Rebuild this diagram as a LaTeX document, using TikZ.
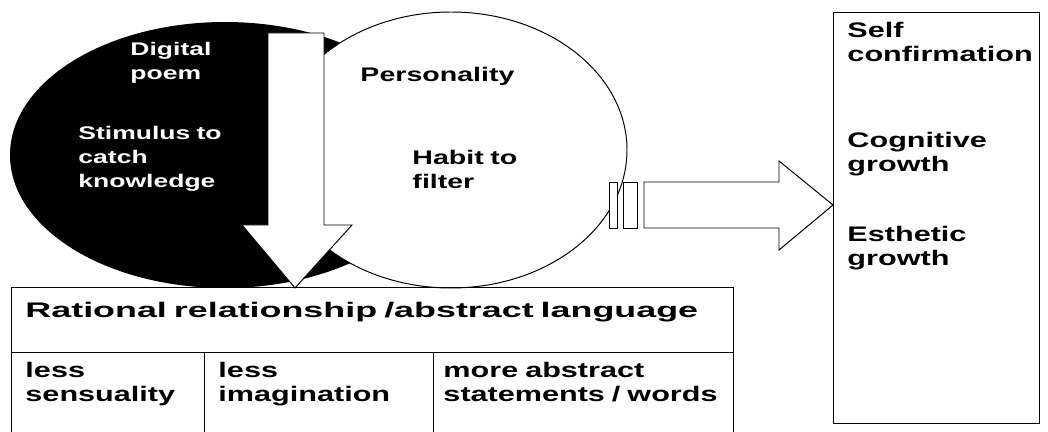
\documentclass[tikz,border=0pt]{standalone}
\usepackage{fontspec}
\setmainfont{Liberation Sans}[FakeStretch=1.45]
\usetikzlibrary{positioning}

\begin{document}
\begin{tikzpicture}[x=0.025cm, y=-0.025cm, line width=0.7pt,
  lbl/.style={anchor=base west, inner sep=0pt, align=left, text width=8cm,
    font=\bfseries\fontsize{#1}{17}\selectfont},
  lbl/.default=14,
  hdr/.style={lbl, text width=18cm,
    font=\bfseries\fontsize{15}{18}\selectfont\addfontfeature{FakeStretch=1.7}}]

\useasboundingbox (0,0) rectangle (1048,432);

% Two ellipses
\fill[black] (225,155) ellipse [x radius=215, y radius=133];
\draw[fill=white] (451,150) ellipse [x radius=176, y radius=138];

% Down arrow into the table
\draw[fill=white] (268,33) -- (324,33) -- (324,225) -- (352,225) -- (295,288)
  -- (242,225) -- (268,225) -- cycle;

% Right arrow with the two filter bars
\draw[fill=white] (609,182) rectangle (617,228);
\draw[fill=white] (623,182) rectangle (637,228);
\draw[fill=white] (644,182) -- (779,182) -- (779,161) -- (833,205) -- (779,250)
  -- (779,228) -- (644,228) -- cycle;

% Result box
\draw (833,12) rectangle (1039,423);

% Table
\draw (11,432) -- (11,287) -- (733,287) -- (733,432);
\draw (11,352) -- (733,352);
\draw (204,352) -- (204,432);
\draw (433,352) -- (433,432);

% Define nodes
\node[lbl=13, text=white] (poem) at (130,56) {Digital\\poem};
\node[lbl=13, text=white] (stimulus) at (78,140) {Stimulus to\\catch\\knowledge};
\node[lbl] (personality) at (360,82) {Personality};
\node[lbl] (habit) at (412,165) {Habit to\\filter};
\node[lbl=15] (self) at (847,38) {Self\\confirmation};
\node[lbl=15] (cognitive) at (847,148) {Cognitive\\growth};
\node[lbl=15] (esthetic) at (847,242) {Esthetic\\growth};
\node[hdr] (rational) at (25,318) {Rational relationship /abstract language};
\node[lbl=15] (sensuality) at (25,378) {less\\sensuality};
\node[lbl=15] (imagination) at (218,378) {less\\imagination};
\node[lbl=15] (statements) at (443,378) {more abstract\\statements / words};

\end{tikzpicture}
\end{document}
